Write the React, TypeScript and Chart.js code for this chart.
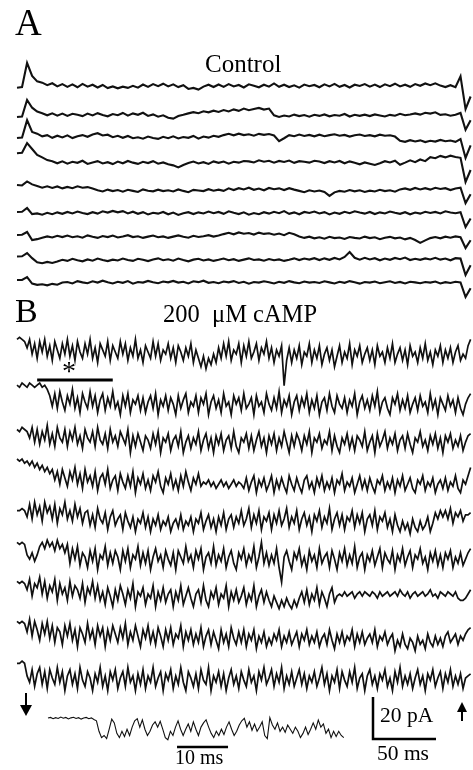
import { useEffect, useRef } from "react";
import { Chart, registerables } from "chart.js";

Chart.register(...registerables);

// ================= DATA (current in pA, upward = positive) =================
// Each sweep is sampled uniformly over SWEEP_MS.
const SWEEP_MS = 360;
const INSET_DT_MS = 0.5;

// Panel A – Control sweeps (91 samples each)
const control1 = [
  -0.8, -0.5, 11, 4.8, 2.2, 1.6, 0.4, 1.3, -0.2, 0.9,
  -0.4, 0.8, -0.6, 1.0, -0.3, 0.6, -0.7, 0.5, -1.0, -0.2,
  -1.1, -0.3, -0.9, 0.1, -0.8, 0.7, -0.4, 0.9, -0.1, 1.1,
  -0.2, 0.8, -0.5, 0.4, -1.4, -0.9, -1.7, -0.3, 0.6, -0.5,
  0.7, -0.4, 0.9, -0.2, 0.5, -0.7, 0.8, 0.1, -0.6, 0.6,
  -0.3, 1.2, -0.4, 0.6, -0.5, 0.3, -0.8, 0.7, -0.1, 0.5,
  -0.6, 0.8, -0.2, 1.0, -0.4, 0.5, -0.7, 0.6, 0.0, 0.9,
  -0.3, 0.7, -0.5, 0.8, -0.1, 1.1, -0.2, 0.6, -0.4, 0.9,
  0.1, 1.2, 0.4, 1.3, 0.2, -0.5, 0.4, -0.6, 4.6, -11,
  -5,
];
const control2 = [
  -1.4, -1.2, 6.7, 3.0, 1.2, 0.4, -0.6, 0.3, -0.8, 0.2,
  -0.9, 0.1, -0.4, -1.0, 0.2, -0.7, 0.4, -0.5, -1.1, 0.0,
  -0.6, 0.5, -0.8, 0.3, -0.4, 0.6, -0.9, -0.2, -1.3, -0.6,
  -1.8, -2.2, -1.0, -0.4, 0.3, 0.9, 0.4, 1.3, 0.8, 1.6,
  1.0, 1.9, 1.2, 2.2, 1.5, 2.6, 1.8, 2.4, 2.9, 2.1,
  2.6, -0.6, -1.4, -0.7, -1.2, -0.3, -1.0, -0.5, -1.3, -0.4,
  -0.9, -0.2, -1.1, -0.5, -0.8, 0.0, -1.2, -0.4, -0.9, -0.3,
  -1.0, -0.2, -0.7, -1.2, -0.4, -0.8, 0.1, -0.6, -0.2, 0.3,
  -0.3, 0.6, 0.2, 0.8, -0.4, -0.1, -0.8, -0.4, 0.5, -7.5,
  -3,
];
const control3 = [
  -0.5, -0.2, 8, 2.4, 1.6, 0.3, 0.9, -0.4, 0.6, -0.2,
  0.8, -0.5, 0.4, 0.9, 0.1, 1.2, 1.8, 0.7, 1.1, -0.1,
  0.6, -0.4, 0.5, -0.6, -0.1, -0.8, 0.2, -0.5, -0.9, 0.1,
  -0.6, 0.3, -0.7, 0.0, -0.4, 0.5, -0.8, 0.2, -0.3, 0.6,
  0.1, 0.9, 1.5, 0.8, 1.6, 0.9, 1.3, 0.6, 1.5, 1.0,
  1.4, 0.7, -2.0, -0.6, 0.9, 0.4, 1.2, 0.5, 1.0, 0.3,
  1.1, 0.4, 0.9, 1.3, 0.6, 1.0, 0.2, 0.8, 1.2, 0.5,
  0.9, 0.3, 1.1, 0.6, 0.8, 0.2, -1.8, -2.3, -1.5, -2.1,
  -1.6, -2.4, -1.8, -2.2, -1.4, -2.0, -1.7, -2.3, -1.0, -10,
  -4,
];
const control4 = [
  4.2, 4.4, 9, 6.2, 3.4, 2.2, 0.9, 0.4, -0.6, 0.3,
  -0.8, 0.1, -0.4, 0.6, -0.9, -0.2, 0.4, -0.7, -0.1, -1.0,
  0.2, -0.6, 0.5, -0.3, -0.9, 0.1, -0.5, 0.4, -0.8, -0.2,
  -1.1, -1.6, -2.6, -1.4, -0.5, 0.2, -0.7, -0.1, -0.9, 0.3,
  -0.4, 0.2, -0.8, 0.1, -0.3, 0.5, 0.3, -0.2, 0.8, 0.1,
  0.6, -0.3, 0.5, 0.0, 0.7, -0.4, 0.4, 0.1, -0.3, 0.6,
  0.2, -0.5, 0.4, -0.2, 0.5, -0.6, 0.3, -0.4, -1.1, -0.2,
  -0.8, -1.4, -0.6, 0.4, -0.2, 0.6, -1.3, -0.3, 0.8, -0.1,
  1.2, 0.4, 2.3, 1.8, 2.9, 2.2, 3.0, 2.4, 2.0, -9.5,
  -3.8,
];
const control5 = [
  1.9, 1.7, 3.6, 2.2, 1.4, 0.6, 1.3, 0.5, 1.2, 0.3,
  1.0, 0.4, 1.3, 0.6, 0.9, 0.2, -0.6, -1.2, -0.3, -1.0,
  -0.5, -1.3, -0.4, -0.9, -1.4, -0.2, -0.8, -1.1, -0.3, -1.0,
  -0.6, -1.2, -0.2, -0.9, -1.5, -0.4, -0.7, -1.0, -0.1, -0.8,
  -0.3, -0.9, 0.3, -0.5, 0.4, -0.2, 0.6, -0.4, 0.2, -0.6,
  0.5, -0.1, 0.3, -0.5, 0.4, -0.3, -0.9, -1.5, -0.6, -1.2,
  -0.7, -1.4, -3.3, -1.6, -0.9, -1.3, -0.5, -1.1, -0.6, -1.4,
  -0.8, -1.2, -0.4, -1.0, -0.6, -1.3, -0.2, 0.3, -0.4, 0.5,
  -0.2, 0.4, -0.3, 0.6, 0.0, 0.4, -0.5, 0.2, 0.6, -6.7,
  -2.5,
];
const control6 = [
  0.5, 0.6, 2.4, -0.5, -0.2, -0.8, 0.1, -0.6, 0.3, -0.4,
  0.5, -0.2, 0.7, 0.0, -0.5, 0.4, -0.3, 0.8, 0.2, 1.0,
  0.3, 0.9, -0.2, 0.6, -0.4, 0.4, -0.7, 0.1, -0.3, 0.5,
  -0.6, 0.2, -0.9, -0.1, 0.4, -0.5, 0.3, -0.2, 0.7, -0.1,
  0.5, -0.4, 0.8, 0.1, -0.5, 0.3, -0.8, 0.0, -0.6, 0.4,
  -0.3, 0.6, -0.1, 0.9, -0.4, 0.3, -0.6, 0.5, 0.0, 0.7,
  -0.2, 0.4, -0.7, 0.2, -0.4, 0.6, -0.1, 0.8, 0.2, -0.3,
  0.5, -0.5, 0.3, -0.2, 0.7, 0.1, -0.4, 0.4, -0.6, 0.2,
  -0.3, 0.6, 0.0, 0.5, -0.2, 0.8, 0.2, -0.1, 0.4, -6.7,
  -2.6,
];
const control7 = [
  0.5, 0.6, 1.9, -1.9, -1.5, -0.8, -0.2, -0.7, 0.1, -0.5,
  0.2, -0.6, -0.1, -0.8, 0.3, -0.4, -0.9, 0.0, -0.5, 0.2,
  -0.7, -0.2, 0.4, -0.5, -0.1, -0.9, -0.3, 0.2, -0.6, -0.2,
  -0.9, -0.3, 0.3, -0.4, -0.8, 0.1, -0.5, -0.1, 0.4, -0.3,
  0.2, 0.9, 1.5, 0.8, 1.7, 1.1, 1.4, 0.7, 1.6, 1.0,
  1.3, 0.6, 1.2, 0.4, 1.5, 0.8, -0.2, -0.9, -0.3, -1.1,
  -0.6, -1.3, -0.4, -1.0, -0.7, -1.4, -0.5, -0.9, -1.2, -0.3,
  -1.0, -0.6, -1.5, -0.8, -0.4, -1.1, -0.7, -1.6, -0.9, -1.9,
  -3.3, -2.1, -1.0, -0.5, -1.1, -0.3, -0.8, -0.2, -0.6, -5.7,
  -2.0,
];
const control8 = [
  1.2, 1.3, 2.8, 0.4, -1.6, -2.0, -1.4, -1.9, -1.2, -0.4,
  -0.9, 0.1, -0.6, -1.1, -0.2, -0.8, 0.2, -0.5, -1.0, -0.3,
  -0.7, 0.2, -0.5, -0.9, 0.1, -0.4, -1.0, -0.2, 0.3, -0.6,
  -0.1, -0.8, 0.2, -0.5, -1.1, -0.3, 0.1, -0.7, -0.2, -0.9,
  -0.4, 0.2, -0.6, -0.1, -0.9, -0.3, 0.3, -0.5, -0.2, -0.8,
  0.0, -0.6, -0.2, -0.9, -0.4, 0.3, -0.5, 0.2, -0.3, 0.4,
  -0.5, 0.3, -0.4, 0.5, -0.2, 1.0, 3.3, 0.6, -0.3, 0.6,
  -0.2, 0.4, -0.6, 0.2, -0.4, 0.5, -0.1, 0.7, -0.5, 0.1,
  -0.4, 0.3, -0.2, 0.6, -0.3, 0.2, -0.6, 0.4, 0.2, -7.6,
  -3.0,
];
const control9 = [
  1.4, 1.5, 2.8, -0.3, -0.9, -0.6, -1.1, -0.4, -0.8, 0.2,
  0.5, -0.2, 0.9, 0.3, -0.1, 0.8, 0.2, 1.1, 0.4, -0.2,
  0.6, 0.1, 0.9, -0.3, 0.5, 0.2, 1.0, 0.4, -0.1, 0.7,
  0.3, 1.0, 0.2, 0.6, -0.2, 0.8, 0.4, 1.1, 0.1, 0.5,
  -0.1, 0.7, 0.3, 0.9, 0.0, 0.6, -0.3, 0.5, 0.2, 0.8,
  0.4, -0.2, 0.6, 0.1, 0.9, 0.3, -0.1, 0.7, 0.2, 0.5,
  0.0, 0.8, 0.3, -0.2, 0.6, 0.1, 0.9, 0.4, -0.3, 0.5,
  0.2, 0.7, -0.1, 0.4, 0.8, 0.0, 0.5, -0.2, 0.6, 0.3,
  -0.1, 0.5, 0.2, 0.7, -0.2, 0.4, 0.0, 0.6, 0.3, -6.7,
  -2.5,
];

// Panel B – 200 µM cAMP sweeps (181 samples each, 2 ms apart)
const camp1 = [
  6, 7, 6, 5, 2, 6, -1, 4, -3, 5,
  0, 6, -2, 3, -4, 5, 1, -3, 4, -1,
  6, -2, 3, -4, 5, 0, -3, 4, -1, 6,
  -3, 2, -5, 4, 1, -2, 5, -4, 3, 0,
  -3, 5, -1, 4, -4, 2, -2, 6, -3, 1,
  -5, 3, 0, -3, 5, -2, 4, -4, 1, -1,
  4, -3, 2, -5, 3, 0, -4, 2, -2, 4,
  -5, 1, -3, -7, -2, -8, -3, -6, -1, -5,
  2, -3, 4, -2, 5, -4, 1, -1, 4, -5,
  3, -2, 5, -3, 0, 4, -4, 2, -1, 5,
  -3, 2, -5, 1, -2, 3, -16, -4, 2, -5,
  1, -3, 3, -6, 0, -2, 4, -5, 1, -3,
  3, -6, -1, 2, -4, 1, -7, -2, 3, -5,
  0, -3, 4, -6, 1, -2, 3, -5, -1, 2,
  -4, 1, -6, 3, -2, 0, -5, 2, -3, 4,
  -5, -1, 2, -4, 1, -6, 3, -2, 0, -5,
  2, -3, 4, -4, 0, -6, 1, -2, 3, -5,
  1, -3, 2, -5, 0, 3, -4, -1, -3, 3,
  6,
];
const camp2 = [
  8, 7, 9, 8, 7, 9, 8, 7, 8, 9,
  7, 8, 6, 3, -2, 4, -3, 5, 0, -4,
  3, -1, 6, -3, 2, -5, 4, 0, -3, 5,
  -2, 3, -5, 1, 4, -4, 2, -2, 5, -3,
  0, -6, 3, -2, 4, -5, 1, -1, 3, -4,
  2, -5, 0, 3, -3, 4, -6, 1, -2, 3,
  -4, 2, -1, -6, 3, -3, 1, 4, -5, 0,
  -2, 3, -5, 2, -1, 4, -6, 0, 3, -3,
  1, -5, 4, -2, 0, -6, 3, -1, 2, -4,
  4, -3, -1, 2, -6, 3, -2, 0, -5, 4,
  -1, -4, 2, -3, 5, -5, 1, -2, 3, -6,
  0, 3, -4, 2, -2, 4, -5, 1, -3, 3,
  -6, 0, 2, -4, 4, -2, -5, 3, -1, -3,
  2, -5, 1, -2, 4, -6, 0, 3, -3, 1,
  -4, 3, -2, 5, -5, 0, 2, -3, -6, 2,
  -1, 4, -4, 1, -3, 3, -5, -1, 2, -4,
  3, -2, 0, -5, 4, -3, 1, -6, 2, -1,
  -4, 3, -2, 1, -5, 2, -3, -6, -1, 2,
  4,
];
const camp3 = [
  5, 4, 6, 5, 4, 1, 6, -1, 5, -2,
  4, 0, 7, -2, 3, -3, 6, 1, -1, 5,
  -3, 4, 0, 6, -2, 2, -4, 5, 1, -1,
  4, -3, 6, 0, -2, 3, -4, 5, -1, 2,
  -3, 4, 1, -2, 5, -6, 2, -3, 3, -1,
  -5, 2, 0, -4, 3, -2, 4, -6, 1, -1,
  3, -5, 0, 2, -3, 4, -6, -1, 2, -4,
  1, -2, 4, -5, 0, 3, -4, 1, -6, 2,
  -2, 3, -5, 0, 2, -4, 4, -3, -6, 1,
  -1, 3, -4, 2, -5, 0, 4, -3, 1, -6,
  2, -2, 3, -5, 1, -3, 4, -1, -6, 2,
  -3, 3, 0, -5, 2, -2, 4, -6, 1, -1,
  3, -4, 0, -2, 4, -5, 2, -3, -6, 1,
  -2, 3, -4, 1, -5, 2, 0, -3, 4, -5,
  -1, 2, -6, 3, -3, 0, 4, -4, 1, -2,
  3, -5, 0, 2, -4, 3, -2, -6, 1, -1,
  4, -3, 0, -5, 2, -2, 3, -4, 1, -6,
  2, -1, 3, -4, 0, -3, 2, -5, -1, 2,
  3,
];
const camp4 = [
  10, 9, 10, 8, 9, 7, 9, 6, 8, 5,
  7, 4, 6, 3, 5, 0, 4, -2, 5, 1,
  -3, 4, 0, 6, -2, 3, -4, 5, -1, 2,
  -3, 4, -5, 1, 3, -2, 5, -4, 0, 2,
  -5, 3, -1, -4, 2, -3, 4, -6, 1, -2,
  3, -4, 0, -5, 2, -1, 4, -3, -6, 1,
  -2, 3, -4, 0, -5, 2, -3, 4, -1, -5,
  1, -2, 3, -3, -1, -2, 0, -3, -1, -4,
  -2, 0, -3, -1, -4, -2, 0, -3, -1, -2,
  -4, 1, -5, -1, 2, -6, 0, -3, 1, -5,
  -2, 2, -6, 0, -4, 1, -3, -6, 2, -2,
  -5, 1, -3, -6, 0, 2, -4, -1, -6, 1,
  -3, 2, -5, -1, -4, 1, -6, 0, -2, 3,
  -5, -1, -3, 1, -6, -2, 2, -4, 0, -5,
  1, -3, -6, 0, -2, 2, -5, -1, -4, 1,
  -6, 0, -3, 2, -5, -2, 1, -4, -6, 0,
  -2, 2, -5, -1, -3, 1, -6, -2, 0, -4,
  1, -5, -1, -3, 2, -4, -6, 0, -2, 2,
  6,
];
const camp5 = [
  4, 4, 5, 4, 1, 7, 0, 8, 2, 6,
  -1, 8, 3, 6, 0, 7, -2, 5, 2, 8,
  0, 4, -1, 7, 1, 5, -2, 3, 4, -3,
  2, -4, 5, 0, -2, 3, -5, 1, 4, -3,
  0, 2, -5, 3, -1, -4, 1, -6, 0, -2,
  3, -4, 1, -6, 0, -3, 2, -5, -1, -3,
  1, -6, -2, 0, -4, 2, -5, -1, -3, 1,
  -6, 0, -2, 3, -5, -1, 2, -4, 0, -6,
  1, -3, 3, -5, 0, 2, -4, 1, -2, 4,
  -3, 0, 5, -4, 2, -2, 4, -5, 1, -1,
  3, -5, 2, -2, 4, -3, 0, 5, -4, 1,
  -2, 4, -5, 0, 3, -3, 1, -6, 2, -1,
  4, -4, 1, -2, 5, -5, 0, 3, -3, 2,
  -5, 1, -1, 4, -4, 2, -2, 3, -6, 0,
  2, -3, 4, -5, 1, -1, 3, -4, 0, -6,
  2, -3, -6, -1, -5, -2, -7, 0, -4, -6,
  -1, -5, -3, 1, -6, -2, 3, 0, 4, 1,
  4, 0, 5, -2, 3, 1, 4, -1, 2, 2,
  3,
];
const camp6 = [
  7, 6, 7, 6, 1, -1, 2, -2, 1, 5,
  7, 4, 8, 5, 7, 3, 8, 4, 6, 2,
  6, -3, 4, -1, 5, -4, 2, 0, -5, 3,
  -2, 4, -6, 1, -1, 5, -4, 2, -3, 3,
  0, -6, 3, -2, 4, -5, 1, -1, 5, -4,
  2, -3, 3, -6, 0, 4, -2, 1, -5, 3,
  -1, -4, 2, -6, 3, 0, -3, 5, -2, 1,
  -5, 3, -1, 4, -6, 0, 2, -3, 5, -4,
  1, -2, 4, -5, 0, 3, -3, -6, 2, -1,
  4, -4, 1, -2, 5, -5, 0, 7, -3, 2,
  -4, 1, -3, 4, -5, -12, 0, 3, -2, -6,
  2, -1, 4, -4, 0, -6, 3, -2, 1, -5,
  4, -3, 0, 2, -5, 3, -1, -6, 2, -2,
  4, -4, 1, -3, 5, -5, 0, 2, -6, 1,
  -2, 3, -4, 0, 4, -5, 2, -1, -3, 3,
  -6, 1, -2, 4, -4, 0, 3, -5, 1, -1,
  4, -3, 0, -6, 2, -2, 3, -4, 1, -5,
  2, -1, 3, -5, 0, -3, 2, -4, -1, 2,
  4,
];
const camp7 = [
  6, 5, 6, 5, 2, 7, -1, 5, 3, 8,
  0, 6, -2, 4, 1, 7, -3, 5, 0, 3,
  -3, 6, -1, 4, 2, -2, 5, -4, 3, 0,
  6, -2, 4, -3, 1, -5, 3, -1, -6, 2,
  -3, 4, 0, -5, 2, -2, 5, -6, 1, -1,
  3, -5, 0, -2, 4, -6, 1, -3, 3, -4,
  0, 2, -6, 1, -3, 4, -5, -1, 3, -2,
  -6, 0, 2, -4, 4, -3, -6, 1, -2, 3,
  -5, 0, -2, 4, -6, 1, -3, 2, -4, -1,
  3, -5, 0, -3, 4, -6, -1, 2, -4, 1,
  -3, -6, -1, -4, -7, -3, -6, -2, -5, -7,
  -3, -6, -2, 1, -4, 2, -5, 0, -3, 3,
  -5, 1, -2, -6, 0, 3, -4, -1, 0, -1,
  1, -1, 0, 1, -2, 0, 1, -1, 1, 0,
  -1, 1, 0, -2, 1, -1, 0, 1, -1, 0,
  1, -1, 2, 0, -1, 1, -2, 0, 1, -1,
  0, 1, -1, 0, 2, -1, 0, -2, 1, 0,
  -1, 1, 0, -1, 1, -2, -3, -3, -2, 0,
  2,
];
const camp8 = [
  6, 5, 6, 5, 1, 7, -1, 6, 2, -3,
  5, 0, 6, -2, 4, -4, 3, 1, -5, 4,
  -1, 5, -3, 2, -6, 3, 0, -4, 5, -2,
  2, -5, 4, -1, 3, -6, 2, -3, 4, 0,
  -4, 3, -2, 5, -5, 1, -3, 4, -1, -6,
  2, -2, 4, -4, 1, -5, 3, -1, -6, 2,
  -3, 3, -5, 0, -2, 4, -6, 1, -3, 2,
  -5, 0, -4, 3, -6, -1, 2, -5, 1, -3,
  -7, 2, -4, 0, -6, 3, -2, -5, 1, -4,
  2, -6, 0, -3, 2, -7, -1, -4, 1, -6,
  -2, -5, 0, -3, 2, -6, -1, -4, 1, -5,
  -2, 1, -6, 0, -3, 2, -5, -1, -4, 1,
  -6, -2, 0, -5, 2, -3, -7, 0, -4, 1,
  -5, -1, -3, 2, -6, 0, -4, 1, -5, -2,
  0, -4, 2, -6, -1, -3, 1, -5, -2, 0,
  -8, -3, -6, 0, -5, -7, -2, -4, -8, -1,
  -5, -3, -7, 0, -4, -6, -1, -5, -2, -6,
  -1, 1, -4, -2, 0, -5, -1, -3, 0, 2,
  3,
];
const camp9 = [
  7, 7, 8, 7, 1, -2, 4, -4, 2, 5,
  -3, 3, -5, 4, 0, -3, 5, -2, 3, -6,
  1, 4, -3, 2, -5, 5, -1, -4, 3, 0,
  -6, 2, -2, 5, -4, 1, -6, 3, -1, 4,
  -5, 0, 3, -4, 5, -2, 1, -6, 2, -3,
  4, -5, 1, -2, 5, -4, 0, 3, -6, 2,
  -1, 4, -5, 1, -3, 5, -2, -6, 3, 0,
  -4, 2, -5, 4, -1, -3, 5, -6, 1, -2,
  3, -4, 2, -6, 0, 4, -3, 1, -5, 3,
  -1, -4, 4, -2, 1, -6, 3, -1, 5, -3,
  0, 4, -4, 2, -2, 5, -5, 1, -3, 3,
  -4, 0, 4, -3, 2, -5, 1, -2, 3, -4,
  0, 5, -3, 2, -6, 1, -2, 4, -5, 3,
  -1, -4, 3, -2, 5, -5, 0, 2, -6, 1,
  4, -3, 1, -5, 2, -1, 4, -4, 0, -6,
  3, -2, 5, -4, 1, -3, 2, -5, 0, 4,
  -3, 1, -6, 2, -1, 4, -4, 0, 3, -5,
  2, -2, 4, -4, 1, -3, 2, -5, 0, 1,
  2,
];

// Inset: starred segment of the 2nd cAMP sweep on an expanded time base (0.5 ms steps)
const insetSegment = [
  3.3, 3.6, 3.0, 3.5, 3.1, 3.8, 3.2, 3.6, 2.9, 3.4,
  3.7, 3.1, 3.5, 2.8, 3.3, 3.6, 3.0, 3.4, 2.6, 2.0,
  -3, -6, -5, -6.5, -2, 2.8, 1, -4, -6, -3,
  -5.5, -2, -5, -1, 2, 3, -1, 2.5, -2, -5,
  -3, 0, 1.5, -1, 1.8, -2, -6, -7, -3, -5,
  -1, 2, -2, -5, -2, 0.5, -3, 1.5, -2, -5,
  -1, 1, 2.5, -1, -4, -6, -3, -5, -2, -4.5,
  -1, 1.5, -2, -5, -3, 0, 2, 3.2, -1, 1.5,
  -2.5, 0.5, -3, -1, 1.5, -5, -6.5, 3.5, 0, -2,
  1, -3, -1, -3.5, 0, -2, -4, -1, -3, -6,
  -4, -1, -4.5, -2, 1, -2, 2.4, -1, 0.5, -4,
  -2, -6, -3, -5.5, -3, -5, -6,
];

const controlSweeps = [control1, control2, control3, control4, control5, control6, control7, control8, control9];
const campSweeps = [camp1, camp2, camp3, camp4, camp5, camp6, camp7, camp8, camp9];

const PANEL_LABELS = ["A", "B"];
const CONDITION_LABELS = ["Control", "200  \u03bcM cAMP"];
const SCALE_BAR_MS = 50;
const SCALE_BAR_PA = 20;
const INSET_BAR_MS = 10;
const STAR_SEGMENT_MS = [16, 76];

// ================= LAYOUT =================
const W = 473;
const H = 770;
const PX_PER_MS = 63 / 50;
const PX_PER_PA = 42 / 20;
const INSET_PX_PER_MS = 51 / 10;
const SWEEP_LEFT = 17;
const INSET_LEFT = 48;
const CONTROL_ROWS = [86, 114, 137, 162, 189, 213, 236, 259, 283];
const CAMP_ROWS = [352, 402, 440, 480, 519, 557, 594, 634, 678];
const INSET_ROW = 725;
const SERIF = '"Liberation Serif", "Times New Roman", Times, serif';

function toPoints(values: number[], dt: number, rowPx: number) {
  const off = -rowPx / PX_PER_PA;
  return values.map((v, i) => ({ x: i * dt, y: off + v }));
}

const annotationPlugin = {
  id: "figureAnnotations",
  afterDraw(chart: any) {
    const { ctx, scales } = chart;
    const xs = scales.x;
    const x2 = scales.x2;
    const ys = scales.y;
    ctx.save();
    ctx.fillStyle = "#000";
    ctx.strokeStyle = "#000";
    ctx.textAlign = "left";
    ctx.textBaseline = "alphabetic";

    ctx.font = `37px ${SERIF}`;
    ctx.fillText(PANEL_LABELS[0], 15, 35);
    ctx.font = `25px ${SERIF}`;
    ctx.fillText(CONDITION_LABELS[0], 205, 72);

    ctx.font = `34px ${SERIF}`;
    ctx.fillText(PANEL_LABELS[1], 15, 322);
    ctx.font = `24.5px ${SERIF}`;
    ctx.fillText(CONDITION_LABELS[1], 163, 322);

    // starred segment bar
    ctx.font = `28px ${SERIF}`;
    ctx.fillText("*", 62, 380);
    ctx.lineWidth = 3;
    ctx.lineCap = "butt";
    ctx.beginPath();
    ctx.moveTo(xs.getPixelForValue(STAR_SEGMENT_MS[0]), 380);
    ctx.lineTo(xs.getPixelForValue(STAR_SEGMENT_MS[1]), 380);
    ctx.stroke();

    // inset time bar
    const ib0 = x2.getPixelForValue(25.3);
    const ib1 = x2.getPixelForValue(25.3 + INSET_BAR_MS);
    ctx.lineWidth = 2.5;
    ctx.beginPath();
    ctx.moveTo(ib0, 747);
    ctx.lineTo(ib1, 747);
    ctx.stroke();
    ctx.font = `20px ${SERIF}`;
    ctx.fillText(`${INSET_BAR_MS} ms`, 175, 764);

    // main scale bar
    const cx = 373;
    const cy = 739;
    const lenX = xs.getPixelForValue(SCALE_BAR_MS) - xs.getPixelForValue(0);
    const lenY = ys.getPixelForValue(-SCALE_BAR_PA) - ys.getPixelForValue(0);
    ctx.lineWidth = 2.5;
    ctx.beginPath();
    ctx.moveTo(cx, cy - lenY);
    ctx.lineTo(cx, cy);
    ctx.lineTo(cx + lenX, cy);
    ctx.stroke();
    ctx.font = `21.5px ${SERIF}`;
    ctx.fillText(`${SCALE_BAR_PA} pA`, 380, 722);
    ctx.fillText(`${SCALE_BAR_MS} ms`, 377, 760);

    // arrows
    ctx.lineWidth = 2;
    ctx.beginPath();
    ctx.moveTo(26, 693);
    ctx.lineTo(26, 707);
    ctx.stroke();
    ctx.beginPath();
    ctx.moveTo(20, 705);
    ctx.lineTo(32, 705);
    ctx.lineTo(26, 716);
    ctx.closePath();
    ctx.fill();

    ctx.beginPath();
    ctx.moveTo(462, 721);
    ctx.lineTo(462, 710);
    ctx.stroke();
    ctx.beginPath();
    ctx.moveTo(457, 712);
    ctx.lineTo(467, 712);
    ctx.lineTo(462, 702);
    ctx.closePath();
    ctx.fill();

    ctx.restore();
  },
};

export default function App() {
  const ref = useRef<HTMLCanvasElement>(null);

  useEffect(() => {
    const datasets: any[] = [];
    controlSweeps.forEach((vals, k) => {
      datasets.push({
        data: toPoints(vals, SWEEP_MS / (vals.length - 1), CONTROL_ROWS[k]),
        borderColor: "#111",
        borderWidth: 2.1,
        showLine: true,
        pointRadius: 0,
        xAxisID: "x",
        yAxisID: "y",
      });
    });
    campSweeps.forEach((vals, k) => {
      datasets.push({
        data: toPoints(vals, SWEEP_MS / (vals.length - 1), CAMP_ROWS[k]),
        borderColor: "#111",
        borderWidth: 1.7,
        showLine: true,
        pointRadius: 0,
        xAxisID: "x",
        yAxisID: "y",
      });
    });
    datasets.push({
      data: toPoints(insetSegment, INSET_DT_MS, INSET_ROW),
      borderColor: "#111",
      borderWidth: 1.1,
      showLine: true,
      pointRadius: 0,
      xAxisID: "x2",
      yAxisID: "y",
    });

    const chart = new Chart(ref.current as HTMLCanvasElement, {
      type: "scatter",
      data: { datasets },
      options: {
        animation: false,
        responsive: false,
        maintainAspectRatio: false,
        events: [],
        layout: { padding: 0 },
        elements: { line: { tension: 0 }, point: { radius: 0 } },
        plugins: { legend: { display: false }, tooltip: { enabled: false } },
        scales: {
          x: {
            type: "linear",
            display: false,
            min: -SWEEP_LEFT / PX_PER_MS,
            max: (W - SWEEP_LEFT) / PX_PER_MS,
          },
          x2: {
            type: "linear",
            axis: "x",
            display: false,
            min: -INSET_LEFT / INSET_PX_PER_MS,
            max: (W - INSET_LEFT) / INSET_PX_PER_MS,
          },
          y: {
            type: "linear",
            display: false,
            min: -H / PX_PER_PA,
            max: 0,
          },
        },
      } as any,
      plugins: [annotationPlugin],
    });
    return () => chart.destroy();
  }, []);

  return (
    <div style={{ position: "absolute", left: 0, top: 0, width: W, height: H, background: "#fff" }}>
      <canvas ref={ref} width={W} height={H} style={{ display: "block", width: W, height: H }} />
    </div>
  );
}
